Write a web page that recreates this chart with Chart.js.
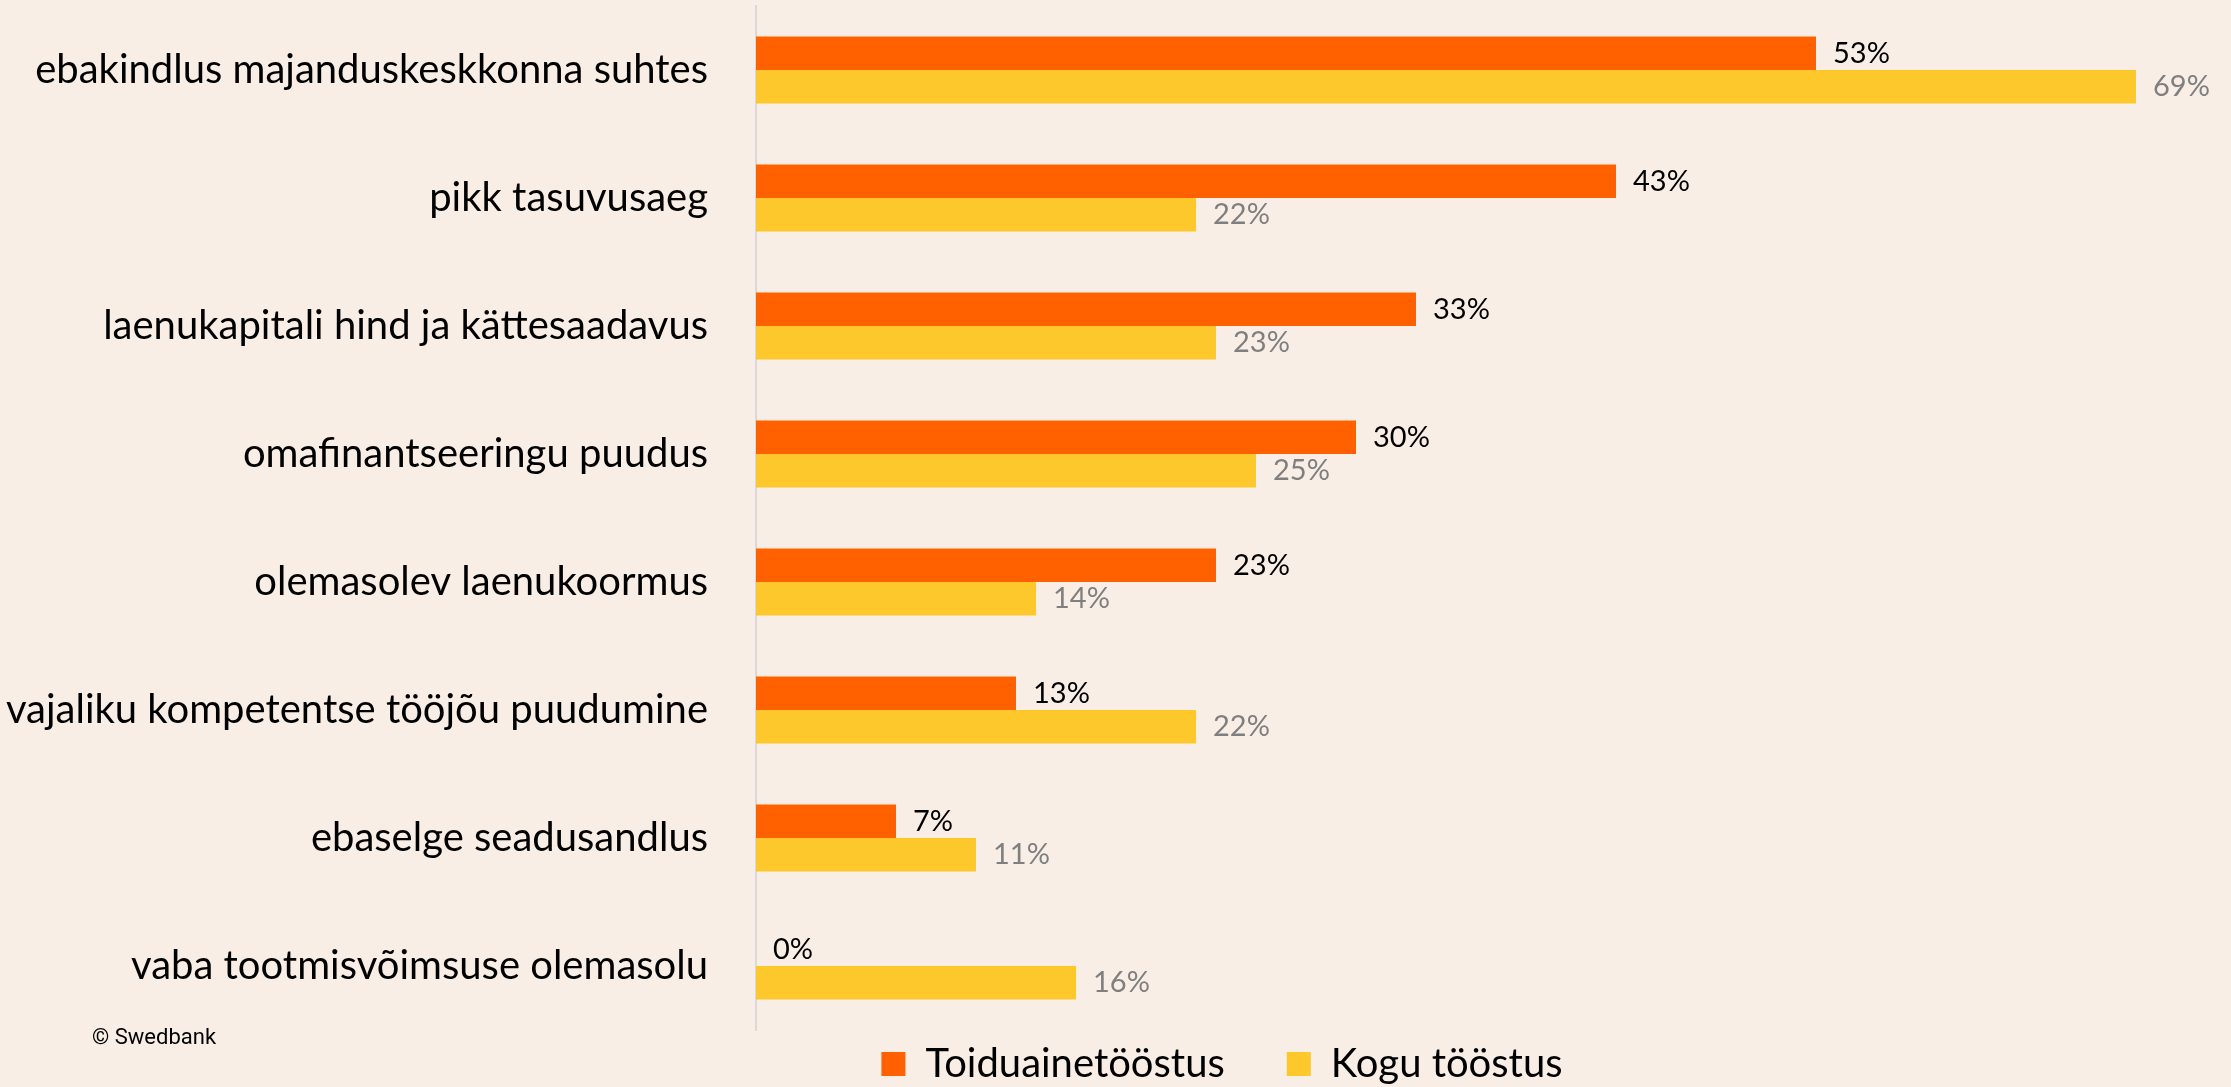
<!DOCTYPE html>
<html>
<head>
<meta charset="utf-8">
<script src="https://cdn.jsdelivr.net/npm/chart.js@4.4.1/dist/chart.umd.min.js"></script>
<style>
  html, body { margin: 0; padding: 0; background: #f8eee5; overflow: hidden; }
  canvas { display: block; }
</style>
</head>
<body>
<canvas id="chart" width="2231" height="1087"></canvas>
<script>
const categories = [
  'ebakindlus majanduskeskkonna suhtes',
  'pikk tasuvusaeg',
  'laenukapitali hind ja kättesaadavus',
  'omafinantseeringu puudus',
  'olemasolev laenukoormus',
  'vajaliku kompetentse tööjõu puudumine',
  'ebaselge seadusandlus',
  'vaba tootmisvõimsuse olemasolu'
];
const seriesNames = ['Toiduainetööstus', 'Kogu tööstus'];
const foodIndustry = [53, 43, 33, 30, 23, 13, 7, 0];
const allIndustry = [69, 22, 23, 25, 14, 22, 11, 16];

const FONT = 'Lato, "Open Sans", sans-serif';

// value labels to the right of each bar
const valueLabels = {
  id: 'valueLabels',
  afterDatasetsDraw(chart) {
    const ctx = chart.ctx;
    ctx.save();
    ctx.font = '29px ' + FONT;
    ctx.textBaseline = 'middle';
    ctx.textAlign = 'left';
    chart.data.datasets.forEach((ds, i) => {
      const meta = chart.getDatasetMeta(i);
      meta.data.forEach((bar, j) => {
        ctx.fillStyle = ds.valueColor;
        ctx.fillText(ds.data[j] + '%', bar.x + 17, bar.y);
      });
    });
    ctx.restore();
  }
};

// copyright note + move legend under the bars
const extras = {
  id: 'extras',
  afterLayout(chart) {
    const lg = chart.legend;
    lg.left += 144;
    lg.right += 144;
    lg.top = 982;
    lg.bottom = 1087;
  },
  afterDraw(chart) {
    const ctx = chart.ctx;
    ctx.save();
    ctx.font = '22px Roboto';
    ctx.fillStyle = '#000';
    ctx.textBaseline = 'alphabetic';
    ctx.fillText('© Swedbank', 92, 1044);
    ctx.restore();
  }
};

new Chart(document.getElementById('chart'), {
  type: 'bar',
  data: {
    labels: categories,
    datasets: [
      {
        label: seriesNames[0],
        data: foodIndustry,
        backgroundColor: '#ff6000',
        valueColor: '#000000'
      },
      {
        label: seriesNames[1],
        data: allIndustry,
        backgroundColor: '#fdc82c',
        valueColor: '#7f7f7f'
      }
    ]
  },
  options: {
    indexAxis: 'y',
    responsive: false,
    animation: false,
    devicePixelRatio: 1,
    barPercentage: 1,
    categoryPercentage: 0.523,
    layout: { padding: { top: 6, right: 75, left: 0, bottom: 0 } },
    scales: {
      x: { display: false, min: 0, max: 70 },
      y: {
        grid: { display: false },
        border: { display: true, color: '#d9d9d9', width: 2 },
        ticks: { color: '#000', padding: 40, font: { family: FONT, size: 40 } },
        afterFit(scale) {
          scale.width = 756;
          scale.paddingTop = 0;
          scale.paddingBottom = 0;
        }
      }
    },
    plugins: {
      tooltip: { enabled: false },
      legend: {
        position: 'bottom',
        maxHeight: 57,
        labels: {
          color: '#000',
          boxWidth: 24,
          boxHeight: 24,
          padding: 62,
          font: { family: FONT, size: 40 }
        }
      }
    }
  },
  plugins: [valueLabels, extras]
});
</script>
</body>
</html>
